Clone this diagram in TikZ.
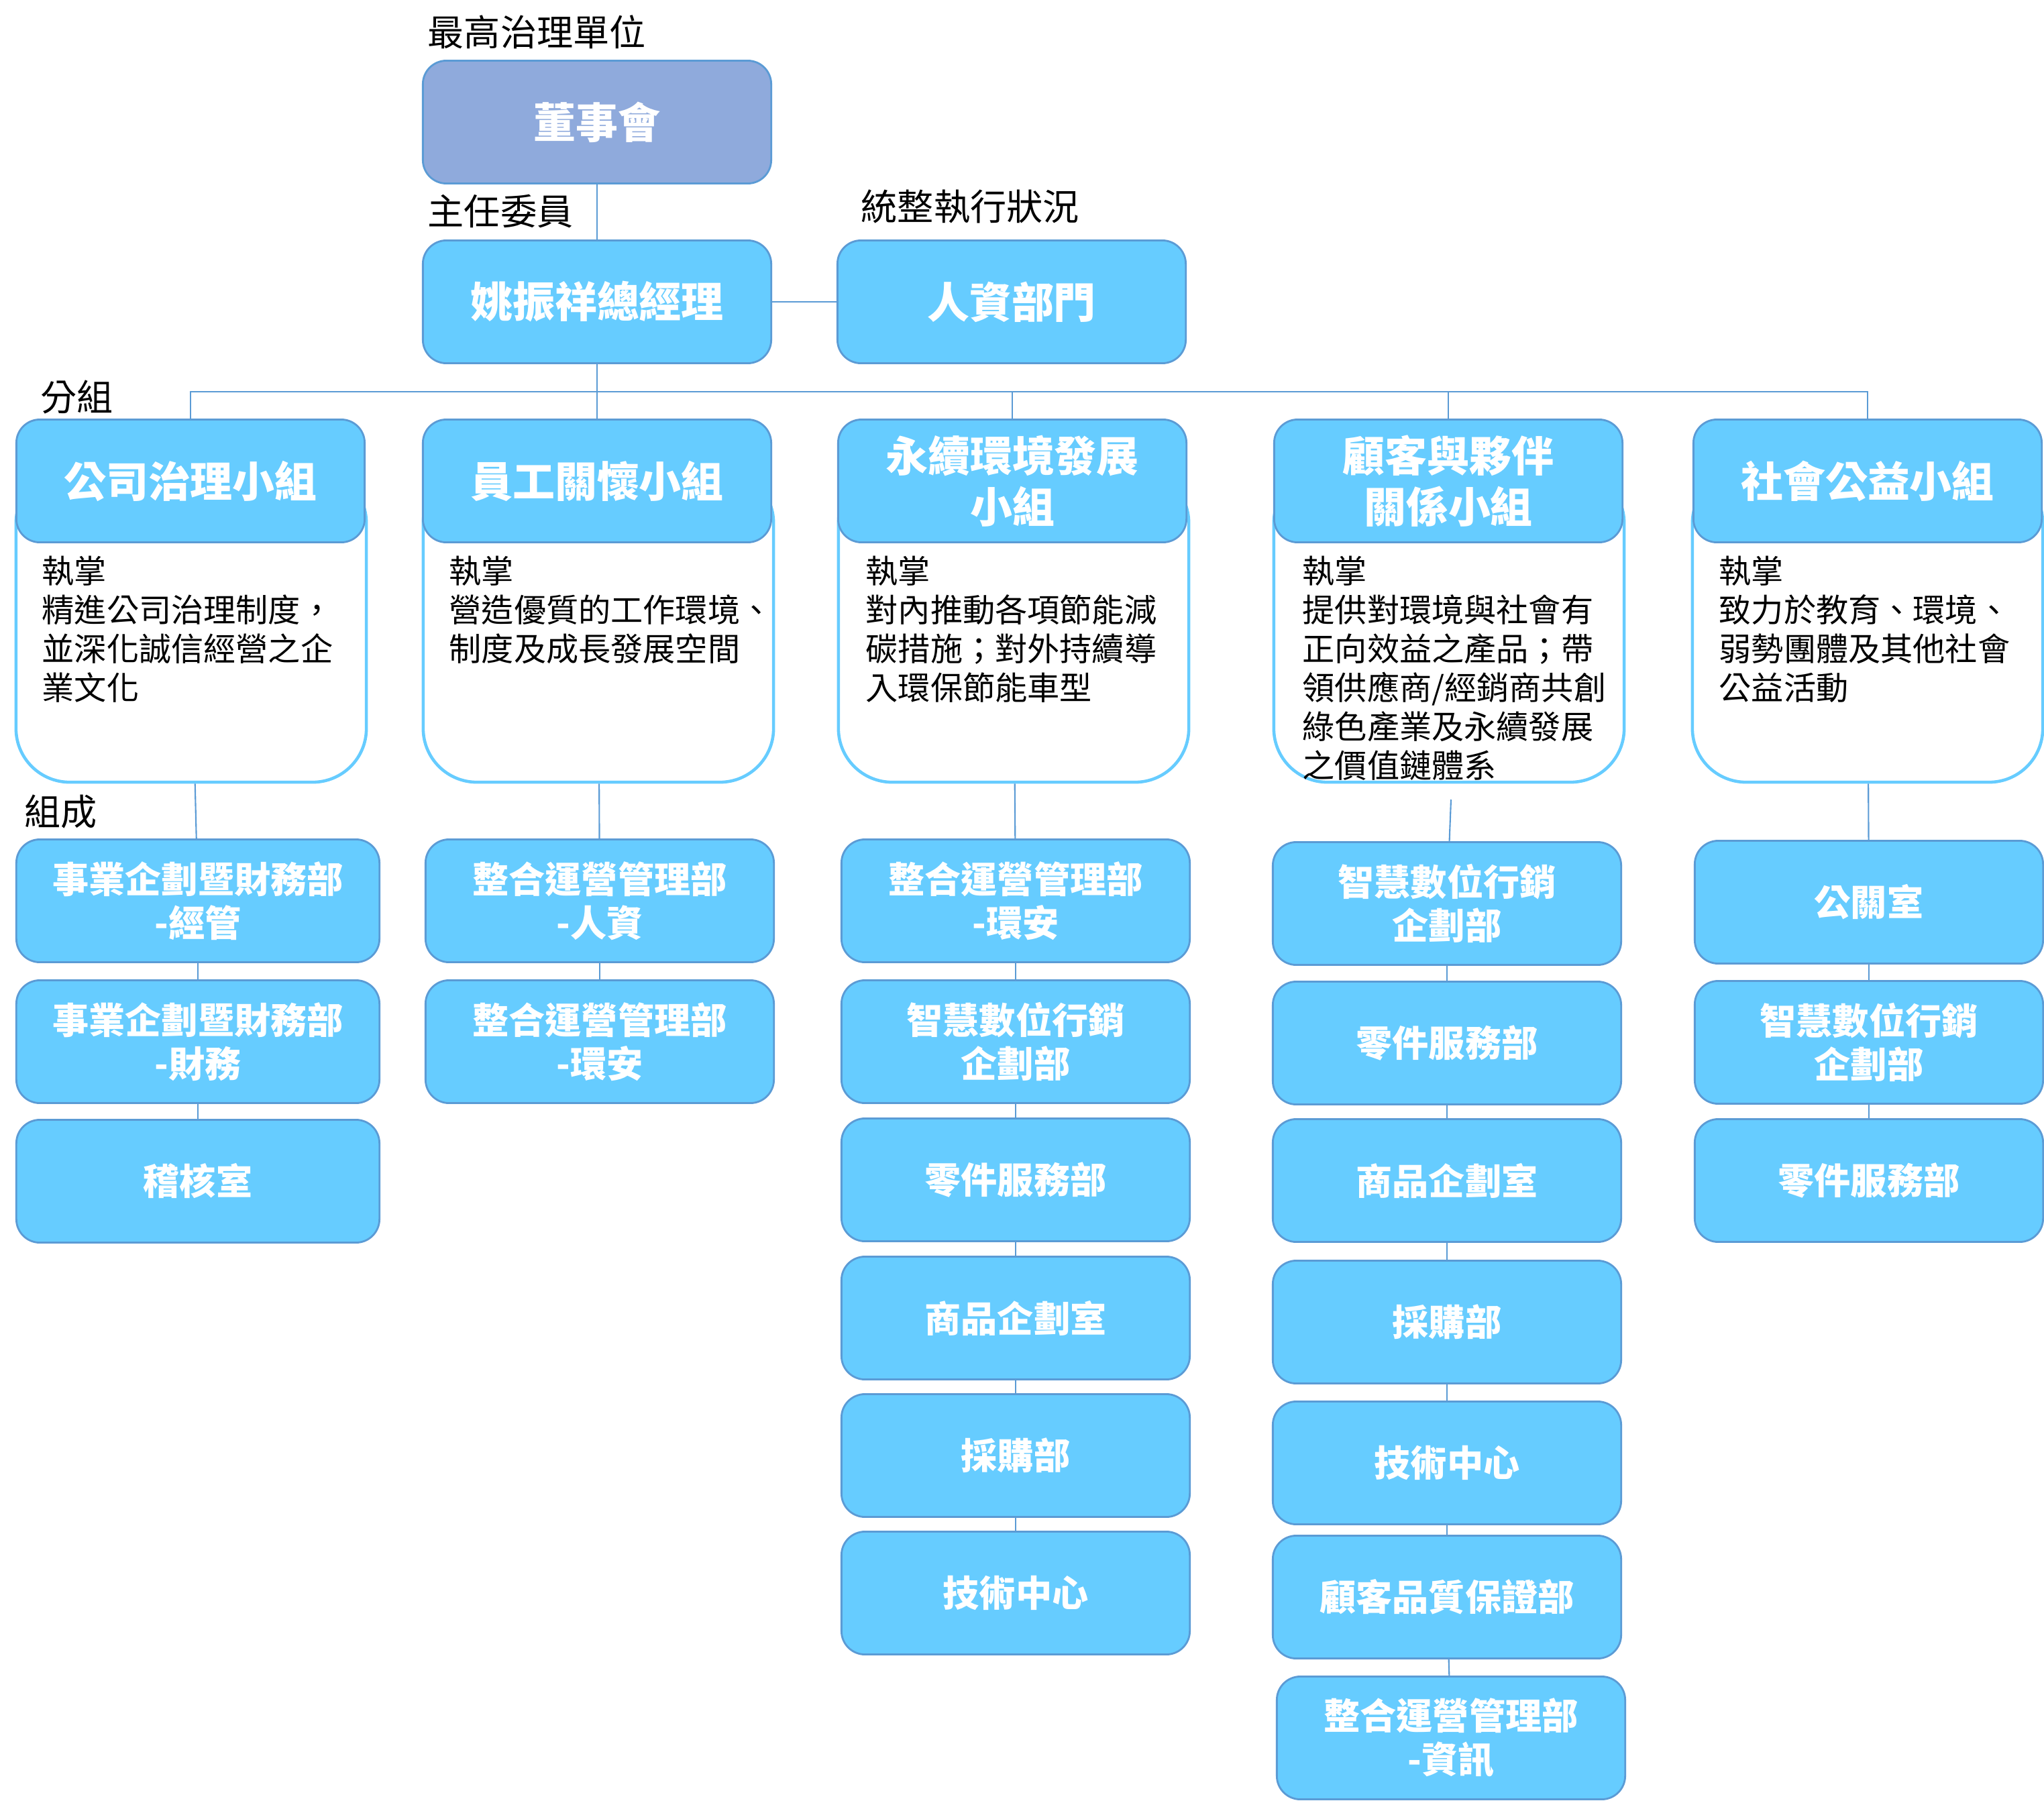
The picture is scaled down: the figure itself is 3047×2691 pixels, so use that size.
\documentclass[tikz,border=0pt]{standalone}
\usepackage{fontspec}
\setmainfont{Noto Sans CJK TC}
\definecolor{boxblue}{HTML}{66CCFF}
\definecolor{edgeblue}{HTML}{5B9BD5}
\definecolor{boardblue}{HTML}{8FAADC}
\definecolor{lineblue}{HTML}{5B9BD5}

\begin{document}
\begin{tikzpicture}[x=0.01cm, y=-0.01cm,
        unit/.style={rectangle, rounded corners=0.35cm, fill=boxblue, draw=edgeblue, line width=0.8pt, text=white, align=center, minimum width=5.19cm, minimum height=1.83cm, inner sep=0pt},
        big/.style={unit, font=\bfseries\fontsize{17.9}{21.6}\selectfont},
        small/.style={unit, font=\bfseries\fontsize{15.4}{18.5}\selectfont},
        duty/.style={rectangle, rounded corners=0.8cm, draw=boxblue, line width=1.3pt, fill=white, minimum width=5.22cm, minimum height=4.66cm},
        note/.style={anchor=north west, inner sep=0pt, align=left, font=\fontsize{13.7}{16.5}\selectfont},
        lbl/.style={anchor=west, inner sep=0pt, font=\fontsize{15.4}{18}\selectfont},
        link/.style={draw=lineblue, line width=0.6pt}]
        \useasboundingbox (0,0) rectangle (3047,2691);

        \node[lbl] (t1) at (637,48) {最高治理單位};
        \node[lbl] (t2) at (637,315) {主任委員};
        \node[lbl] (t3) at (1283,308) {統整執行狀況};
        \node[lbl] (t4) at (60,592) {分組};
        \node[lbl] (t5) at (36,1210) {組成};

        \node[big, fill=boardblue] (b) at (890,182) {董事會};
        \node[big] (m) at (890,450) {姚振祥總經理};
        \node[big] (h) at (1508,450) {人資部門};

        \begin{scope}[every node/.style={duty}]
            \node (d1) at (285,933) {};
            \node (d2) at (892,933) {};
            \node (d3) at (1511,933) {};
            \node (d4) at (2160,933) {};
            \node (d5) at (2784,933) {};
        \end{scope}

        \node[big] (g1) at (284,717) {公司治理小組};
        \node[big] (g2) at (890,717) {員工關懷小組};
        \node[big] (g3) at (1509,717) {永續環境發展\\小組};
        \node[big] (g4) at (2159,717) {顧客與夥伴\\關係小組};
        \node[big] (g5) at (2784,717) {社會公益小組};

        \node[note] (n1) at (62,828) {執掌\\精進公司治理制度，\\並深化誠信經營之企\\業文化};
        \node[note] (n2) at (669,828) {執掌\\營造優質的工作環境、\\制度及成長發展空間};
        \node[note] (n3) at (1290,828) {執掌\\對內推動各項節能減\\碳措施；對外持續導\\入環保節能車型};
        \node[note] (n4) at (1941,828) {執掌\\提供對環境與社會有\\正向效益之產品；帶\\領供應商/經銷商共創\\綠色產業及永續發展\\之價值鏈體系};
        \node[note] (n5) at (2562,828) {執掌\\致力於教育、環境、\\弱勢團體及其他社會\\公益活動};

        \begin{scope}[every node/.style={small}]
            \node[minimum width=5.41cm] (s11) at (295,1343) {事業企劃暨財務部\\-經管};
            \node[minimum width=5.41cm] (s12) at (295,1553) {事業企劃暨財務部\\-財務};
            \node[minimum width=5.41cm] (s13) at (295,1761) {稽核室};

            \node (s21) at (894,1343) {整合運營管理部\\-人資};
            \node (s22) at (894,1553) {整合運營管理部\\-環安};

            \node (s31) at (1514,1343) {整合運營管理部\\-環安};
            \node (s32) at (1514,1553) {智慧數位行銷\\企劃部};
            \node (s33) at (1514,1759) {零件服務部};
            \node (s34) at (1514,1965) {商品企劃室};
            \node (s35) at (1514,2170) {採購部};
            \node (s36) at (1514,2375) {技術中心};

            \node (s41) at (2157,1347) {智慧數位行銷\\企劃部};
            \node (s42) at (2157,1555) {零件服務部};
            \node (s43) at (2157,1760) {商品企劃室};
            \node (s44) at (2157,1971) {採購部};
            \node (s45) at (2157,2181) {技術中心};
            \node (s46) at (2157,2381) {顧客品質保證部};
            \node (s47) at (2163,2591) {整合運營管理部\\-資訊};

            \node (s51) at (2786,1345) {公關室};
            \node (s52) at (2786,1554) {智慧數位行銷\\企劃部};
            \node (s53) at (2786,1760) {零件服務部};
        \end{scope}

        \coordinate (bus) at (890,584);
        \coordinate (k4) at (2163,1192);

        \draw[link] (b) -- (m);
        \draw[link] (m) -- (h);
        \draw[link] (m) -- (g2);
        \draw[link] (g1) |- (bus) -| (g5);
        \draw[link] (bus) -| (g3);
        \draw[link] (bus) -| (g4);

        \draw[link] (d1) -- (s11);
        \draw[link] (s11) -- (s12);
        \draw[link] (s12) -- (s13);
        \draw[link] (d2) -- (s21);
        \draw[link] (s21) -- (s22);
        \draw[link] (d3) -- (s31);
        \draw[link] (s31) -- (s32);
        \draw[link] (s32) -- (s33);
        \draw[link] (s33) -- (s34);
        \draw[link] (s34) -- (s35);
        \draw[link] (s35) -- (s36);
        \draw[link] (k4) -- (s41);
        \draw[link] (s41) -- (s42);
        \draw[link] (s42) -- (s43);
        \draw[link] (s43) -- (s44);
        \draw[link] (s44) -- (s45);
        \draw[link] (s45) -- (s46);
        \draw[link] (s46) -- (s47);
        \draw[link] (d5) -- (s51);
        \draw[link] (s51) -- (s52);
        \draw[link] (s52) -- (s53);
    \end{tikzpicture}
\end{document}
